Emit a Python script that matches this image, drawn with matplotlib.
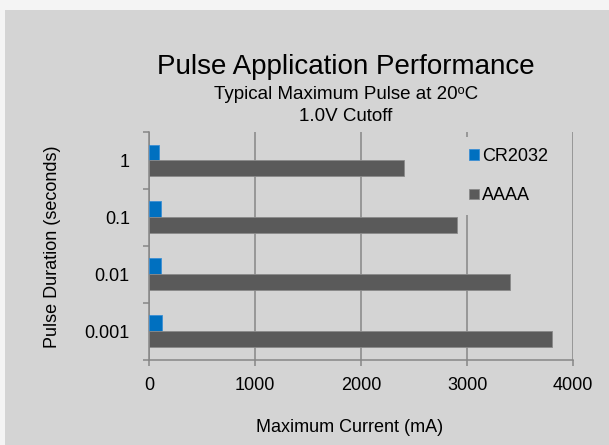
import numpy as np
import matplotlib
matplotlib.use("Agg")
import matplotlib.pyplot as plt
from matplotlib.patches import Rectangle
from matplotlib.ticker import FixedLocator

# data
durations = ["0.001", "0.01", "0.1", "1"]
cr2032 = [123, 113, 107, 95]
aaaa = [3800, 3400, 2900, 2400]
series_names = ["CR2032", "AAAA"]

plt.rcParams['font.family'] = ['Liberation Sans', 'DejaVu Sans']

W, H = 609, 445
fig = plt.figure(figsize=(W / 100, H / 100), dpi=100, facecolor='#f4f4f4')
fig.patches.append(Rectangle((5 / W, 0), 1, 1 - 10 / H, transform=fig.transFigure,
                             facecolor='#d4d4d4', edgecolor='none', zorder=-5))

ax = fig.add_axes([149.3 / W, 1 - 359.5 / H, (573.3 - 149.3) / W, (359.5 - 132) / H])
ax.set_facecolor('none')

y = np.arange(len(durations))
h = 0.28
ax.barh(y + h / 2, cr2032, height=h, color='#0070c0', edgecolor='#3b8fd4',
        linewidth=0.6, label=series_names[0], zorder=3)
ax.barh(y - h / 2, aaaa, height=h, color='#5a5a5a', edgecolor='#8a8a8a',
        linewidth=0.6, label=series_names[1], zorder=3)

ax.set_xlim(0, 4000)
ax.set_ylim(-0.5, len(durations) - 0.5)
ax.set_xticks([0, 1000, 2000, 3000, 4000])
ax.set_yticks(y)
ax.set_yticklabels(durations)
ax.yaxis.set_minor_locator(FixedLocator(np.arange(len(durations) + 1) - 0.5))

gc = '#878787'
ax.grid(axis='x', color=gc, linewidth=1.1, zorder=1)
for s in ['top', 'right']:
    ax.spines[s].set_visible(False)
for s in ['left', 'bottom']:
    ax.spines[s].set_color(gc)
    ax.spines[s].set_linewidth(1.1)
ax.tick_params(axis='x', length=4.5, width=1.1, color=gc, pad=8, labelsize=13)
ax.tick_params(axis='y', which='major', length=0, pad=14, labelsize=13)
ax.tick_params(axis='y', which='minor', length=4.5, width=1.1, color=gc)

cx = 346 / W
fig.text(cx, 1 - 74 / H, "Pulse Application Performance", ha='center', va='baseline', fontsize=20)
fig.text(cx, 1 - 99 / H, "Typical Maximum Pulse at 20\u1d52C", ha='center',
         va='baseline', fontsize=13.5)
fig.text(cx, 1 - 121 / H, "1.0V Cutoff", ha='center', va='baseline', fontsize=13.5)
fig.text(350 / W, 1 - 428 / H, "Maximum Current (mA)", ha='center', va='center', fontsize=13)
fig.text(53 / W, 1 - 247 / H, "Pulse Duration (seconds)", ha='center', va='center',
         rotation=90, fontsize=13)

handles, labels = ax.get_legend_handles_labels()
leg = ax.legend(handles, labels, loc='upper left', bbox_to_anchor=(458 / W, 1 - 137 / H),
                bbox_transform=fig.transFigure, fontsize=13, frameon=True,
                facecolor='#d4d4d4', edgecolor='none', framealpha=1, fancybox=False,
                handlelength=0.55, handleheight=0.55, handletextpad=0.2,
                labelspacing=1.25, borderpad=0.6, borderaxespad=0)
leg.set_zorder(4)

fig.savefig("out.png", dpi=100, facecolor=fig.get_facecolor())
